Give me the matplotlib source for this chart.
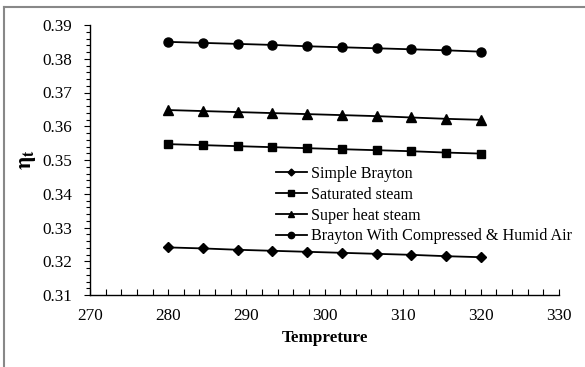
import numpy as np
import matplotlib
matplotlib.use("Agg")
import matplotlib.pyplot as plt
from matplotlib.ticker import MultipleLocator, FormatStrFormatter
from matplotlib.lines import Line2D

temperature = [280.0, 284.44, 288.89, 293.33, 297.78, 302.22, 306.67, 311.11, 315.56, 320.0]
simple_brayton = [0.3241, 0.3238, 0.3234, 0.3231, 0.3228, 0.3225, 0.3222, 0.3219, 0.3215, 0.3212]
saturated_steam = [0.3547, 0.3544, 0.3541, 0.3538, 0.3535, 0.3532, 0.3529, 0.3526, 0.3522, 0.3519]
superheat_steam = [0.3648, 0.3645, 0.3642, 0.3639, 0.3636, 0.3633, 0.3630, 0.3626, 0.3622, 0.3619]
humid_air = [0.3850, 0.3847, 0.3844, 0.3841, 0.3837, 0.3834, 0.3831, 0.3828, 0.3825, 0.3821]

labels = ["Simple Brayton", "Saturated steam", "Super heat steam",
          "Brayton With Compressed & Humid Air"]

plt.rcParams['font.family'] = ['Liberation Serif', 'DejaVu Serif']
plt.rcParams['mathtext.fontset'] = 'stix'

W, H = 585, 367
fig = plt.figure(figsize=(W / 100, H / 100), dpi=100)
ax = fig.add_axes([90 / W, 1 - 295 / H, (559 - 90) / W, (295 - 25) / H])

fs = 12.3
lfs = 11.6
series = [simple_brayton, saturated_steam, superheat_steam, humid_air]
markers = ['D', 's', '^', 'o']
msizes = [5, 6, 6.5, 6.5]
handles = []
for vals, m, ms, lab in zip(series, markers, msizes, labels):
    ax.plot(temperature, vals, color='black', lw=1.3, marker=m, ms=ms,
            markerfacecolor='black', markeredgecolor='black')
    handles.append(Line2D([], [], color='black', lw=1.3, marker=m,
                          ms=ms * 0.7, markerfacecolor='black', label=lab))

ax.set_xlim(270, 330)
ax.set_ylim(0.31, 0.39)
ax.xaxis.set_major_locator(MultipleLocator(10))
ax.xaxis.set_minor_locator(MultipleLocator(2))
ax.yaxis.set_major_locator(MultipleLocator(0.01))
ax.yaxis.set_minor_locator(MultipleLocator(0.002))
ax.yaxis.set_major_formatter(FormatStrFormatter('%.2f'))

for s in ['top', 'right']:
    ax.spines[s].set_visible(False)
for s in ['left', 'bottom']:
    ax.spines[s].set_linewidth(1.0)

ax.tick_params(axis='x', which='major', direction='in', length=4, width=0.8,
               labelsize=fs, pad=9)
ax.tick_params(axis='x', which='minor', direction='in', length=4, width=0.8)
ax.tick_params(axis='y', which='major', direction='out', length=4, width=0.8,
               labelsize=fs, pad=9)
ax.tick_params(axis='y', which='minor', direction='out', length=3, width=0.8)

ax.set_xlabel('Tempreture', fontsize=fs, fontweight='bold', labelpad=5)
ax.set_ylabel(r'$\mathbf{\eta_t}$', fontsize=fs + 4, labelpad=3)

leg = fig.legend(handles=handles, loc='upper left',
                 bbox_to_anchor=(276 / W, 1 - 166 / H),
                 bbox_transform=fig.transFigure,
                 frameon=False, fontsize=lfs, handlelength=1.9,
                 handletextpad=0.3, labelspacing=0.3, borderpad=0,
                 borderaxespad=0)

# figure border (top and left visible)
fig.add_artist(Line2D([3.5 / W, 3.5 / W], [0, 1 - 7 / H], transform=fig.transFigure,
                      color='#888888', lw=1.5))
fig.add_artist(Line2D([3.5 / W, 1], [1 - 7 / H, 1 - 7 / H], transform=fig.transFigure,
                      color='#888888', lw=1.5))

fig.savefig('out.png', dpi=100)
